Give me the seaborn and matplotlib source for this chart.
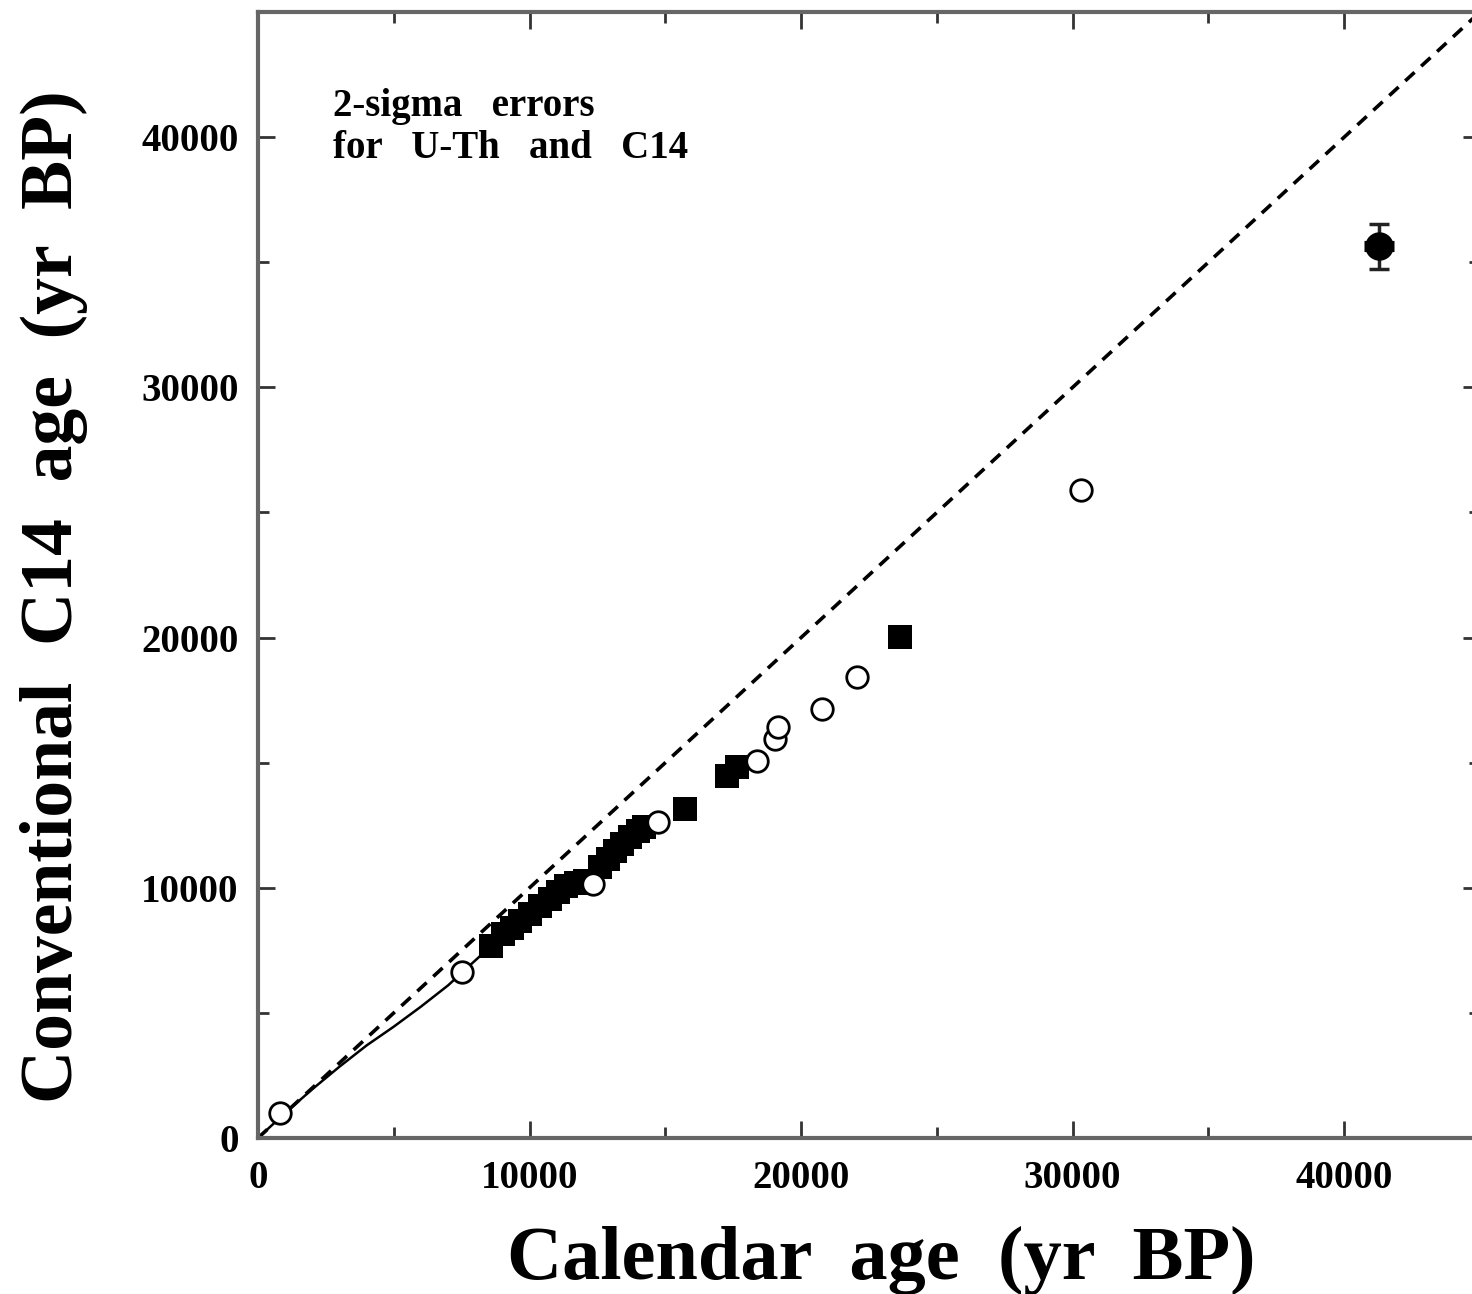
import matplotlib
matplotlib.use("Agg")
import matplotlib.pyplot as plt
from matplotlib.ticker import MultipleLocator
import seaborn as sns
import pandas as pd

# ---- data (yr BP) ----
open_cal = [810, 7510, 12330, 14720, 18360, 19030, 19140, 20760, 22040, 30320]
open_c14 = [1000, 6650, 10140, 12620, 15070, 15950, 16430, 17150, 18440, 25890]

filled_cal = [8570, 9020, 9350, 9640, 10010, 10380, 10750, 11040, 11340, 11700,
              12030, 12590, 12880, 13140, 13400, 13690, 13990, 14210,
              15710, 17260, 17630, 23630]
filled_c14 = [7660, 8140, 8380, 8660, 8940, 9260, 9540, 9820, 10060, 10180,
              10260, 10820, 11140, 11460, 11740, 12020, 12270, 12430,
              13150, 14470, 14830, 20040]

big_cal = [41290]
big_c14 = [35630]
big_c14_err = [900]
big_cal_err = [550]

curve_cal = [0, 1000, 2000, 3000, 4000, 5000, 6000, 7000, 7500, 8570]
curve_c14 = [0, 1000, 1950, 2850, 3700, 4450, 5250, 6100, 6600, 7660]

one_to_one = [0, 45000]

sns.set_style("ticks")
plt.rcParams["font.family"] = ["Liberation Serif", "DejaVu Serif"]
plt.rcParams["font.weight"] = "bold"
plt.rcParams["text.color"] = "black"
plt.rcParams["axes.labelcolor"] = "black"
plt.rcParams["xtick.color"] = "black"
plt.rcParams["ytick.color"] = "black"

fig = plt.figure(figsize=(14.72, 12.94), dpi=100)
ax = fig.add_axes([258 / 1472, 156 / 1294, 1222 / 1472, 1126 / 1294])

# 1:1 line
sns.lineplot(x=one_to_one, y=one_to_one, ax=ax, color="black", lw=2.6,
             linestyle=(0, (3.5, 2.5)), zorder=2)
# calibration curve
sns.lineplot(x=curve_cal, y=curve_c14, ax=ax, color="black", lw=1.8,
             sort=False, estimator=None, zorder=2)

df_open = pd.DataFrame({"cal": open_cal, "c14": open_c14})
df_filled = pd.DataFrame({"cal": filled_cal, "c14": filled_c14})

sns.scatterplot(data=df_filled, x="cal", y="c14", ax=ax, marker="s", s=280,
                color="black", edgecolor="black", linewidth=0, zorder=3)
sns.scatterplot(data=df_open, x="cal", y="c14", ax=ax, marker="o", s=240,
                facecolor="white", edgecolor="black", linewidth=2.0, zorder=4)

# large point with error bars
ax.errorbar(big_cal, big_c14, yerr=big_c14_err, fmt="none", ecolor="#222222",
            elinewidth=2.5, capsize=7, capthick=2.5, zorder=3)
ax.errorbar(big_cal, big_c14, xerr=big_cal_err, fmt="none", ecolor="black",
            elinewidth=8, capsize=0, zorder=3)
sns.scatterplot(x=big_cal, y=big_c14, ax=ax, marker="o", s=420, color="black",
                edgecolor="black", linewidth=0, zorder=4)

ax.set_xlim(0, 45000)
ax.set_ylim(0, 45000)
ax.xaxis.set_major_locator(MultipleLocator(10000))
ax.xaxis.set_minor_locator(MultipleLocator(5000))
ax.yaxis.set_major_locator(MultipleLocator(10000))
ax.yaxis.set_minor_locator(MultipleLocator(5000))
ax.tick_params(which="both", direction="in", top=True, right=True,
               color="#333333", width=2)
ax.tick_params(which="major", length=12, labelsize=28, labelcolor="black")
ax.tick_params(which="minor", length=8)
ax.tick_params(axis="x", which="major", pad=16)
ax.tick_params(axis="y", which="major", pad=14)
for lab in ax.get_xticklabels() + ax.get_yticklabels():
    lab.set_fontweight("bold")

for side in ["left", "bottom", "top", "right"]:
    ax.spines[side].set_color("#666666")
    ax.spines[side].set_linewidth(3)

ax.set_xlabel("Calendar  age  (yr  BP)", fontsize=55, fontweight="bold",
              color="black")
ax.set_ylabel("Conventional  C14  age  (yr  BP)", fontsize=53,
              fontweight="bold", color="black")
ax.xaxis.set_label_coords(0.51, -0.078)
ax.yaxis.set_label_coords(-0.139, 0.481)

ax.text(2750, 41950, "2-sigma   errors\nfor   U-Th   and   C14", fontsize=28,
        fontweight="bold", va="top", ha="left", linespacing=1.15,
        color="black")

fig.savefig("out.png", dpi=100)
